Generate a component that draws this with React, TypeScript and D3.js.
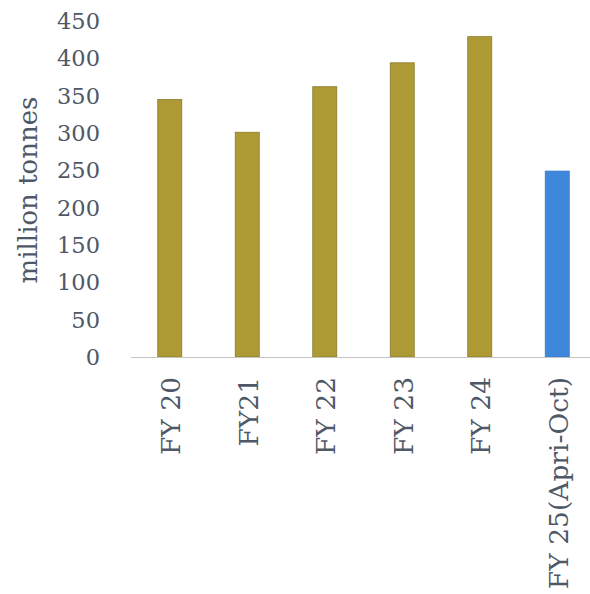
import React from 'react';
import * as d3 from 'd3';

const categories = ['FY 20', 'FY21', 'FY 22', 'FY 23', 'FY 24', 'FY 25(Apri-Oct)'];
const values = [345, 301, 362, 394, 429, 249];
const barColors = ['#ae9a35', '#ae9a35', '#ae9a35', '#ae9a35', '#ae9a35', '#3f87db'];
const yTicks = [0, 50, 100, 150, 200, 250, 300, 350, 400, 450];

const W = 590;
const H = 594;
const font = '"DejaVu Serif", serif';
const textColor = '#4f5866';

export default function App() {
  const x = d3.scaleBand<string>()
    .domain(categories)
    .range([131, 596])
    .paddingInner(0.69)
    .paddingOuter(0.345);

  const y = d3.scaleLinear()
    .domain([0, 450])
    .range([357, 21]);

  return (
    <svg width={W} height={H} style={{ position: 'absolute', left: 0, top: 0, background: '#fff' }}>
      {/* y tick labels */}
      {yTicks.map(t => (
        <text
          key={t}
          x={100}
          y={y(t)}
          dy="0.35em"
          textAnchor="end"
          fontFamily={font}
          fontSize={22.5}
          fill={textColor}
        >
          {t}
        </text>
      ))}

      {/* axis title */}
      <text
        transform={`translate(37,190) rotate(-90)`}
        textAnchor="middle"
        fontFamily={font}
        fontSize={26}
        fill={textColor}
      >
        million tonnes
      </text>

      {/* bars */}
      {categories.map((c, i) => (
        <rect
          key={c}
          x={x(c)}
          y={y(values[i])}
          width={x.bandwidth()}
          height={y(0) - y(values[i])}
          fill={barColors[i]}
          stroke={i === 5 ? '#3a78c0' : '#8a7a2c'}
          strokeWidth={0.8}
        />
      ))}

      {/* baseline */}
      <line x1={131} x2={W} y1={y(0) + 0.5} y2={y(0) + 0.5} stroke="#c4c4c4" strokeWidth={1.2} />

      {/* x labels */}
      {categories.map(c => (
        <text
          key={c}
          transform={`translate(${(x(c) as number) + x.bandwidth() / 2 + 1},377) rotate(-90)`}
          dy="0.35em"
          textAnchor="end"
          fontFamily={font}
          fontSize={26.5}
          fill={textColor}
        >
          {c}
        </text>
      ))}
    </svg>
  );
}
